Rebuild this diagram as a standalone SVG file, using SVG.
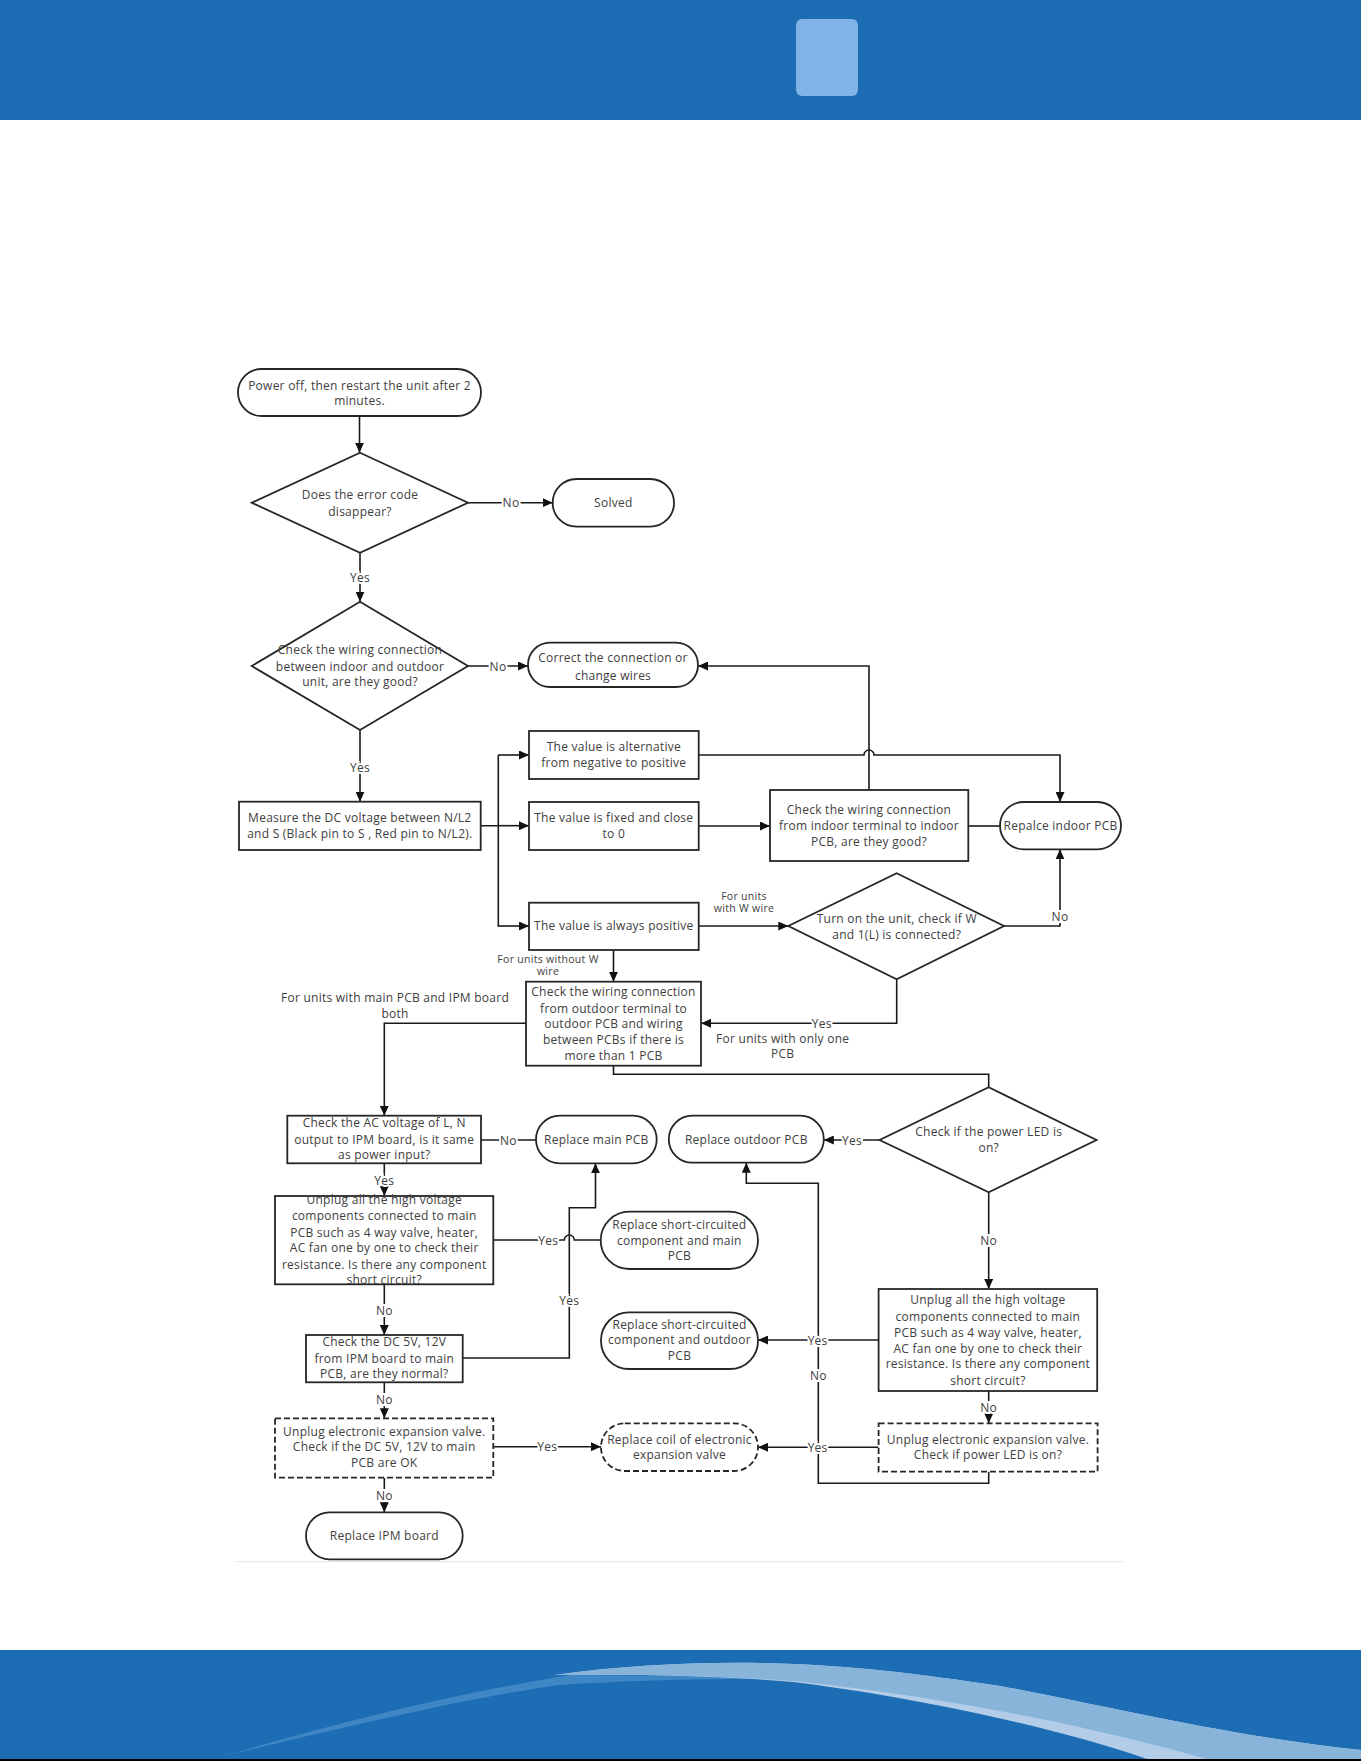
<svg xmlns="http://www.w3.org/2000/svg" width="1361" height="1761" viewBox="0 0 1361 1761">
<style>
.b{fill:#fff;stroke:#262626;stroke-width:1.8}
.d{stroke-dasharray:6 3}
.t{font-family:"Open Sans","Noto Sans","Liberation Sans",sans-serif;font-size:12px;letter-spacing:0.25px;fill:#404040;text-anchor:middle}
.s{font-size:10.5px;letter-spacing:0.3px}
.l{font-family:"Open Sans","Noto Sans","Liberation Sans",sans-serif;font-size:12px;letter-spacing:0.25px;fill:#404040;text-anchor:middle;stroke:#fff;stroke-width:4;paint-order:stroke}
.c{fill:none;stroke:#1a1a1a;stroke-width:1.6}
.a{marker-end:url(#ah)}
</style>
<defs>
<marker id="ah" markerUnits="userSpaceOnUse" markerWidth="11" markerHeight="9" refX="10" refY="4.5" orient="auto">
<path d="M0,0 L10,4.5 L0,9 Z" fill="#111"/>
</marker>
</defs>
<g id="header">
<rect x="0" y="0" width="1361" height="120" fill="#1d6db5"/>
<rect x="796" y="19" width="62" height="77" rx="6" fill="#80b4e6"/>
</g>
<g id="footer">
<rect x="0" y="1650" width="1361" height="109" fill="#1d6db5"/>
<path d="M220 1757 C 320 1728 440 1696 570 1675 L 760 1676 L 760 1679 C 680 1679 620 1681 560 1685 C 480 1695 340 1728 220 1757 Z" fill="#3f86c5"/>
<path d="M555 1675 C 620 1666 690 1662 760 1663 C 850 1665 920 1674 1000 1686 C 1100 1704 1220 1735 1361 1750 L 1361 1759 L 1147 1759 C 1050 1725 900 1695 793 1682 C 720 1676 650 1674 555 1675 Z" fill="#b3cde8"/>
<path d="M555 1675 C 620 1666 690 1662 760 1663 C 850 1665 920 1674 1000 1686 C 1100 1704 1220 1735 1361 1750 L 1361 1759 L 1207 1759 C 1050 1715 900 1692 793 1681 C 720 1676 650 1674 555 1675 Z" fill="#89b4da"/>
<rect x="0" y="1759" width="1361" height="2" fill="#000"/>
</g>
<line x1="236" y1="1561.7" x2="1123" y2="1561.7" stroke="#e3e3e3" stroke-width="1"/>
<g id="connectors">
<path class="c a" d="M359.5 416 V452.7"/>
<path class="c a" d="M468 502.7 H552.7"/>
<path class="c a" d="M360 552.7 V601.7"/>
<path class="c a" d="M468 666 H528"/>
<path class="c a" d="M360 730 V801.7"/>
<path class="c" d="M480.7 825.7 H498.3 M498.3 755 V926.7"/>
<path class="c a" d="M498.3 755 H529"/>
<path class="c a" d="M498.3 825.7 H529"/>
<path class="c a" d="M498.3 926 H529"/>
<path class="c a" d="M698.7 755 H864 A5 5 0 0 1 874 755 H1060 V802"/>
<path class="c a" d="M698.7 826 H770"/>
<path class="c" d="M968.3 826 H1000"/>
<path class="c a" d="M869 790 V666 H698"/>
<path class="c a" d="M698.7 926 H788.3"/>
<path class="c a" d="M1004 926 H1060 V849.3"/>
<path class="c a" d="M896.7 979.3 V1023.3 H701"/>
<path class="c a" d="M613.5 950 V981.7"/>
<path class="c a" d="M526 1023.3 H384.3 V1115.7"/>
<path class="c" d="M613.5 1065.7 V1074.3 H988.7 V1087.3"/>
<path class="c" d="M481 1140 H536"/>
<path class="c a" d="M384.3 1163.3 V1196"/>
<path class="c" d="M493.3 1240 H564.3 A5 5 0 0 1 574.3 1240 H600.7"/>
<path class="c a" d="M384.3 1284.3 V1335"/>
<path class="c a" d="M462.7 1358 H569.3 V1207.7 H595.5 V1163.3"/>
<path class="c a" d="M384.3 1382.3 V1418.3"/>
<path class="c a" d="M493.3 1446.7 H601"/>
<path class="c a" d="M384.3 1477.7 V1512.3"/>
<path class="c a" d="M879.6 1140 H823.8"/>
<path class="c a" d="M988.7 1192.3 V1289"/>
<path class="c a" d="M878.6 1340 H758"/>
<path class="c a" d="M988.7 1391 V1423.3"/>
<path class="c a" d="M878.6 1447.3 H758"/>
<path class="c a" d="M988.7 1471.7 V1483.3 H818.3 V1183.3 H746.3 V1162.7"/>
<text class="l" x="511" y="507">No</text>
<text class="l" x="360" y="581.5">Yes</text>
<text class="l" x="498" y="670.5">No</text>
<text class="l" x="360" y="771.5">Yes</text>
<text class="l" x="1060" y="920.5">No</text>
<text class="l" x="821.7" y="1027.5">Yes</text>
<text class="l" x="508.3" y="1144.5">No</text>
<text class="l" x="384.3" y="1184.5">Yes</text>
<text class="l" x="548.3" y="1244.5">Yes</text>
<text class="l" x="384.3" y="1314.5">No</text>
<text class="l" x="569.3" y="1304.5">Yes</text>
<text class="l" x="384.3" y="1403.5">No</text>
<text class="l" x="547.3" y="1451">Yes</text>
<text class="l" x="384.3" y="1499.5">No</text>
<text class="l" x="852" y="1144.5">Yes</text>
<text class="l" x="988.7" y="1245">No</text>
<text class="l" x="817.6" y="1344.5">Yes</text>
<text class="l" x="988.7" y="1411.8">No</text>
<text class="l" x="817.6" y="1451.8">Yes</text>
<text class="l" x="818.3" y="1380">No</text>
<text class="t s" x="744" y="899.5">For units</text>
<text class="t s" x="744" y="911.5">with W wire</text>
<text class="t s" x="548" y="963">For units without W</text>
<text class="t s" x="548" y="975">wire</text>
<text class="t" x="782.7" y="1042.5">For units with only one</text>
<text class="t" x="782.7" y="1057.8">PCB</text>
<text class="t" x="395" y="1002">For units with  main PCB and IPM board</text>
<text class="t" x="395" y="1017.5">both</text>
</g>
<g id="n_start"><rect class="b" x="238" y="369" width="243" height="47" rx="23.5"/><text class="t" x="359.5" y="389.5">Power off, then restart the unit after 2</text><text class="t" x="359.5" y="404.5">minutes.</text></g>
<g id="n_d1"><polygon class="b" points="360,452.7 468,502.7 360,552.7 251.7,502.7"/><text class="t" x="360" y="498.5">Does the error code</text><text class="t" x="360" y="516">disappear?</text></g>
<g id="n_solved"><rect class="b" x="552.7" y="479" width="121.3" height="47.7" rx="23.8"/><text class="t" x="613.3" y="506.5">Solved</text></g>
<g id="n_d2"><polygon class="b" points="360,601.7 468,666 360,730 251.7,666"/><text class="t" x="360" y="653.5">Check the wiring connection</text><text class="t" x="360" y="670.5">between indoor and outdoor</text><text class="t" x="360" y="686">unit, are they good?</text></g>
<g id="n_correct"><rect class="b" x="528" y="642.7" width="170" height="44.3" rx="22"/><text class="t" x="613" y="662">Correct the connection or</text><text class="t" x="613" y="679.5">change wires</text></g>
<g id="n_measure"><rect class="b" x="239" y="801.7" width="241.7" height="48.3"/><text class="t" x="359.8" y="822">Measure the DC voltage between N/L2</text><text class="t" x="359.8" y="837.7">and S (Black pin to S , Red pin to N/L2).</text></g>
<g id="n_alt"><rect class="b" x="529" y="731" width="169.7" height="48"/><text class="t" x="613.8" y="751">The value is alternative</text><text class="t" x="613.8" y="766.5">from negative to positive</text></g>
<g id="n_fixed"><rect class="b" x="529" y="802" width="169.7" height="48"/><text class="t" x="613.8" y="822">The value is fixed and close</text><text class="t" x="613.8" y="837.7">to 0</text></g>
<g id="n_pos"><rect class="b" x="529" y="902.7" width="169.7" height="47.3"/><text class="t" x="613.8" y="930">The value is always positive</text></g>
<g id="n_chkin"><rect class="b" x="770" y="790" width="198.3" height="71"/><text class="t" x="869" y="813.7">Check the wiring connection</text><text class="t" x="869" y="830">from indoor terminal to indoor</text><text class="t" x="869" y="846">PCB, are they good?</text></g>
<g id="n_replin"><rect class="b" x="1000" y="802" width="121" height="47.3" rx="23.6"/><text class="t" x="1060.5" y="830.3">Repalce indoor PCB</text></g>
<g id="n_d3"><polygon class="b" points="896.7,873.3 1004,926 896.7,979.3 788.3,926"/><text class="t" x="896.7" y="922.7">Turn on the unit, check if W</text><text class="t" x="896.7" y="938.5">and 1(L) is connected?</text></g>
<g id="n_chkout"><rect class="b" x="526" y="981.7" width="175" height="84"/><text class="t" x="613.5" y="995.5">Check the wiring connection</text><text class="t" x="613.5" y="1012.7">from outdoor terminal to</text><text class="t" x="613.5" y="1027.7">outdoor PCB and wiring</text><text class="t" x="613.5" y="1044.4">between PCBs if there is</text><text class="t" x="613.5" y="1060">more than 1 PCB</text></g>
<g id="n_chkac"><rect class="b" x="287.3" y="1115.7" width="193.7" height="47.6"/><text class="t" x="384.2" y="1127">Check the AC voltage of  L, N</text><text class="t" x="384.2" y="1144.4">output to IPM board, is it same</text><text class="t" x="384.2" y="1159.4">as power input?</text></g>
<g id="n_replmain"><rect class="b" x="536" y="1115.7" width="120.7" height="47.6" rx="23.8"/><text class="t" x="596.3" y="1144.4">Replace main PCB</text></g>
<g id="n_reploutd"><rect class="b" x="668.8" y="1115.7" width="155" height="47" rx="23.5"/><text class="t" x="746.3" y="1144.4">Replace outdoor PCB</text></g>
<g id="n_d4"><polygon class="b" points="988.7,1087.3 1096.5,1140 988.7,1192.3 879.6,1140"/><text class="t" x="988.7" y="1135.5">Check if the power LED is</text><text class="t" x="988.7" y="1152">on?</text></g>
<g id="n_unplugmain"><rect class="b" x="275" y="1196" width="218.3" height="88.3"/><text class="t" x="384.2" y="1204.4">Unplug all the high voltage</text><text class="t" x="384.2" y="1220">components connected to main</text><text class="t" x="384.2" y="1236.7">PCB such as  4 way valve, heater,</text><text class="t" x="384.2" y="1251.7">AC fan one by one to check their</text><text class="t" x="384.2" y="1268.7">resistance. Is there any component</text><text class="t" x="384.2" y="1283.7">short circuit?</text></g>
<g id="n_replshortmain"><rect class="b" x="600.7" y="1211.7" width="157.3" height="57.3" rx="28.6"/><text class="t" x="679.3" y="1228.7">Replace  short-circuited</text><text class="t" x="679.3" y="1245.4">component and main</text><text class="t" x="679.3" y="1260">PCB</text></g>
<g id="n_unplugout"><rect class="b" x="878.6" y="1289" width="218.6" height="102"/><text class="t" x="987.9" y="1304.4">Unplug all the high voltage</text><text class="t" x="987.9" y="1321">components connected to main</text><text class="t" x="987.9" y="1336.7">PCB such as  4 way valve, heater,</text><text class="t" x="987.9" y="1352.7">AC fan one by one to check their</text><text class="t" x="987.9" y="1368.4">resistance. Is there any component</text><text class="t" x="987.9" y="1385">short circuit?</text></g>
<g id="n_replshortout"><rect class="b" x="601" y="1312.3" width="157" height="56.7" rx="28"/><text class="t" x="679.5" y="1329.4">Replace short-circuited</text><text class="t" x="679.5" y="1344.4">component and outdoor</text><text class="t" x="679.5" y="1360">PCB</text></g>
<g id="n_chkdc"><rect class="b" x="306" y="1335" width="156.7" height="47.3"/><text class="t" x="384.3" y="1346">Check the DC 5V, 12V</text><text class="t" x="384.3" y="1362.7">from IPM board to main</text><text class="t" x="384.3" y="1378.4">PCB, are they normal?</text></g>
<g id="n_eevmain"><rect class="b d" x="275" y="1418.3" width="218.3" height="59.4"/><text class="t" x="384.2" y="1436">Unplug electronic expansion valve.</text><text class="t" x="384.2" y="1451">Check if the DC 5V, 12V to main</text><text class="t" x="384.2" y="1467">PCB are OK</text></g>
<g id="n_replcoil"><rect class="b d" x="601" y="1423.3" width="157" height="47.7" rx="23.8"/><text class="t" x="679.5" y="1443.7">Replace coil of electronic</text><text class="t" x="679.5" y="1459.4">expansion valve</text></g>
<g id="n_eevout"><rect class="b d" x="878.6" y="1423.3" width="219" height="48.4"/><text class="t" x="988" y="1443.7">Unplug electronic expansion valve.</text><text class="t" x="988" y="1459.4">Check if power LED is on?</text></g>
<g id="n_replipm"><rect class="b" x="306" y="1512.3" width="156.7" height="47" rx="23.5"/><text class="t" x="384.3" y="1540">Replace IPM board</text></g>
</svg>
